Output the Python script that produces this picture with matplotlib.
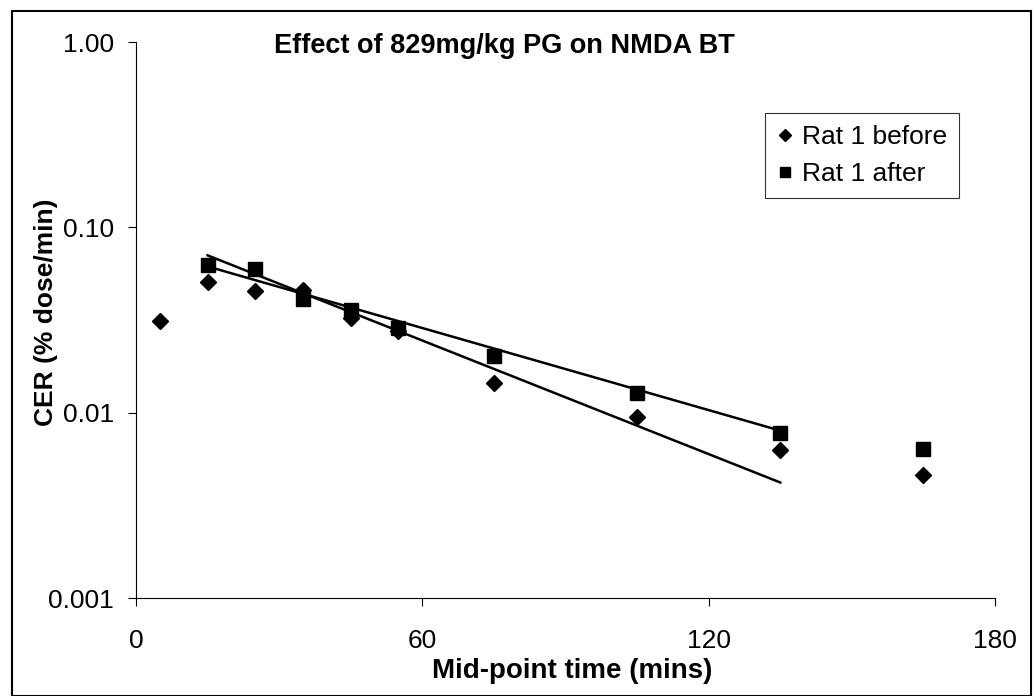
import matplotlib
matplotlib.use("Agg")
from matplotlib import pyplot as plt
from matplotlib.patches import Rectangle
import numpy as np

# data
time_before = [5, 15, 25, 35, 45, 55, 75, 105, 135, 165]
cer_before = [0.0314, 0.0504, 0.0456, 0.046, 0.0326, 0.0277, 0.0145, 0.0095, 0.0063, 0.0046]
time_after = [15, 25, 35, 45, 55, 75, 105, 135, 165]
cer_after = [0.0623, 0.0593, 0.0413, 0.036, 0.0288, 0.0203, 0.0127, 0.0078, 0.0064]

# trend lines (15 -> 135 mins)
fit_time = [15, 135]
fit_before = [0.0706, 0.0042]
fit_after = [0.0615, 0.0080]

legends = ["Rat 1 before", "Rat 1 after"]
y_ticks = [0.001, 0.01, 0.1, 1.0]
y_ticklabels = ["0.001", "0.01", "0.10", "1.00"]
x_ticks = [0, 60, 120, 180]

plt.rcParams.update({'font.family': ['Liberation Sans', 'DejaVu Sans'],
                     'font.size': 19})

fig = plt.figure(figsize=(10.33, 6.96), dpi=100)
ax = fig.add_axes([136 / 1033, 1 - 598 / 696, (995 - 136) / 1033, (598 - 42) / 696])

ax.plot(time_before, cer_before, linestyle='none', marker='D', markersize=8,
        color='k', label=legends[0])
ax.plot(time_after, cer_after, linestyle='none', marker='s', markersize=10,
        color='k', label=legends[1])
ax.plot(fit_time, fit_before, color='k', linewidth=1.8)
ax.plot(fit_time, fit_after, color='k', linewidth=1.8)

ax.set_yscale('log')
ax.set_ylim(0.001, 1.0)
ax.set_xlim(0, 180)
ax.set_yticks(y_ticks)
ax.set_yticklabels(y_ticklabels)
ax.minorticks_off()
ax.set_xticks(x_ticks)
ax.tick_params(axis='both', direction='out', length=6, width=0.8, color='k')
ax.tick_params(axis='y', pad=10)
ax.tick_params(axis='x', pad=16)

for side in ['top', 'right']:
    ax.spines[side].set_visible(False)
for side in ['left', 'bottom']:
    ax.spines[side].set_linewidth(0.8)

fig.text(504 / 1033, 1 - 46 / 696, "Effect of 829mg/kg PG on NMDA BT",
         fontsize=19.5, fontweight='bold', ha='center', va='center')
fig.text(572 / 1033, 1 - 671 / 696, "Mid-point time (mins)",
         fontsize=20, fontweight='bold', ha='center', va='center')
fig.text(46 / 1033, 1 - 312 / 696, "CER (% dose/min)", rotation=90,
         fontsize=19, fontweight='bold', ha='center', va='center')

leg = ax.legend(loc='upper left', bbox_to_anchor=((765 - 136) / (995 - 136), 1 - (113 - 42) / (598 - 42)),
                frameon=True, fancybox=False, borderpad=0.45, handlelength=0.6,
                handletextpad=0.35, labelspacing=0.5, borderaxespad=0, markerscale=0.75,
                fontsize=19)
leg.get_frame().set_edgecolor('k')
leg.get_frame().set_linewidth(0.8)

# outer border
fig.patches.append(Rectangle((12 / 1033, 0), (1031 - 12) / 1033, 1 - 11 / 696,
                             transform=fig.transFigure, fill=False, edgecolor='k', linewidth=1.5))

fig.savefig("out.png", dpi=100)
